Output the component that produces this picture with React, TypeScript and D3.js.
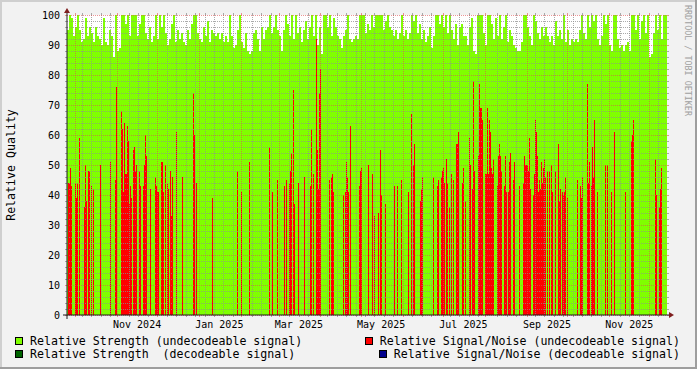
import React from 'react';
import * as d3 from 'd3';

// ---- data ----
const START = new Date(2024, 8, 25);
const END = new Date(2025, 11, 14);
const SLOTS = 600; // one RRD row per pixel column

// Relative Strength (undecodeable signal), one value per 2 rows
const strengthUndecodeable: number[] = [
  95,100,99,93,96,100,95,91,92,99,
  93,96,94,91,96,93,92,90,99,91,
  90,95,93,86,100,88,89,100,100,97,
  100,93,100,100,100,93,97,100,100,94,
  92,96,91,93,100,92,100,96,100,94,
  90,92,97,100,91,95,92,94,91,90,
  95,92,97,100,100,94,92,91,96,93,
  98,91,95,94,93,94,92,94,91,93,
  91,100,93,89,90,95,100,91,89,94,
  88,87,88,94,95,92,88,96,92,95,
  96,100,94,96,100,95,93,88,95,100,
  97,93,100,92,100,94,96,91,95,98,
  92,96,100,93,100,90,96,87,100,100,
  96,100,93,99,96,93,92,89,93,95,
  100,92,91,92,93,92,100,100,100,94,
  97,95,100,96,100,100,100,100,95,98,
  100,96,95,93,95,92,94,100,93,95,
  92,94,100,98,100,94,97,92,95,91,
  93,96,89,93,100,100,97,100,96,100,
  94,100,95,92,97,90,96,97,93,93,
  90,96,99,88,87,100,100,100,94,90,
  100,100,97,92,99,93,100,92,96,100,
  91,95,93,90,89,88,88,91,100,100,
  96,93,90,100,98,94,92,96,93,96,
  93,91,93,90,98,93,95,92,100,91,
  95,90,92,91,92,91,95,100,94,92,
  100,96,100,98,100,92,90,93,100,97,
  100,90,88,100,100,92,89,90,88,90,
  91,88,100,100,95,100,92,98,100,94,
  100,86,87,94,100,95,100,92,100,
];

// Relative Signal/Noise (undecodeable signal): row index and value
const snrSlots: number[] = [
  1,2,3,4,8,9,10,12,17,18,19,21,22,24,26,33,43,48,49,54,55,56,57,58,59,60,61,62,63,64,66,67,68,69,
  72,73,76,77,78,79,83,88,89,90,91,94,95,96,98,100,101,103,104,105,109,115,126,127,129,145,170,174,182,
  202,205,210,217,219,222,223,224,226,227,231,237,243,244,246,249,250,251,252,253,262,264,265,266,
  276,278,279,280,281,283,292,293,294,301,305,307,311,313,314,318,327,330,334,341,344,346,347,
  353,354,355,366,370,371,374,375,376,377,379,380,382,384,386,389,390,391,395,396,398,
  402,403,405,406,407,411,412,413,414,415,418,419,420,421,422,423,424,425,426,430,431,432,433,434,
  437,438,439,441,442,443,446,447,452,456,457,458,459,460,461,462,463,466,467,468,469,470,471,472,
  473,474,475,476,477,478,480,482,484,485,488,491,492,493,495,496,497,498,500,510,513,514,515,
  520,521,522,524,525,526,527,530,538,540,544,547,558,564,565,566,588,589,592,593,594,
];
const snrValues: number[] = [
  44,44,49,43,44,39,44,59,36,50,38,48,48,43,42,50,51,45,76,68,62,41,64,47,47,63,58,37,43,39,55,56,48,50,
  48,43,43,50,60,53,42,46,43,41,41,51,51,41,50,44,42,48,33,46,61,46,74,60,44,39,48,41,51,
  56,41,45,43,45,44,48,54,75,37,44,46,43,62,47,92,55,42,74,82,45,46,47,41,
  40,41,51,46,41,63,43,48,49,50,47,33,34,55,40,37,43,43,45,41,67,50,57,
  38,42,46,46,43,45,46,48,49,44,52,44,36,47,45,57,57,61,44,49,38,
  59,50,42,78,48,53,77,69,69,65,47,47,69,47,65,61,49,47,52,43,53,57,53,48,
  43,53,41,41,51,54,45,51,43,44,53,50,50,50,48,59,42,40,47,65,61,53,41,45,
  42,51,44,49,52,46,48,48,50,41,48,57,38,42,41,40,41,46,39,45,43,39,46,
  77,44,51,43,56,46,65,41,50,50,41,61,41,58,60,65,52,40,36,42,49,
];

const yTicks: number[] = [0, 10, 20, 30, 40, 50, 60, 70, 80, 90, 100];
const xLabelMonths: Date[] = [
  new Date(2024, 10, 1), new Date(2025, 0, 1), new Date(2025, 2, 1), new Date(2025, 4, 1),
  new Date(2025, 6, 1), new Date(2025, 8, 1), new Date(2025, 10, 1),
];
const legendItems = [
  { label: 'Relative Strength (undecodeable signal)', color: '#80FF00' },
  { label: 'Relative Signal/Noise (undecodeable signal)', color: '#FF0000' },
  { label: 'Relative Strength  (decodeable signal)', color: '#006400' },
  { label: 'Relative Signal/Noise (decodeable signal)', color: '#00008B' },
];

// ---- layout ----
const W = 697, H = 369;
const X0 = 67, X1 = 667, Y0 = 315, Y1 = 15;
const FONT = '"DejaVu Sans Mono", monospace';
const GRID = 'rgba(143,143,143,0.75)';
const MGRID = 'rgba(222,79,79,0.6)';

export default function App() {
  const x = d3.scaleTime().domain([START, END]).range([X0, X1]);
  const y = d3.scaleLinear().domain([0, 100]).range([Y0, Y1]);
  const span = END.getTime() - START.getTime();
  const slotMs = span / SLOTS;
  const stepMs = span / 300;

  const areaPts: [Date, number][] = strengthUndecodeable.map((v, i) => [new Date(START.getTime() + i * stepMs), v]);
  areaPts.push([END, strengthUndecodeable[strengthUndecodeable.length - 1]]);
  const area = d3.area<[Date, number]>()
    .x(d => x(d[0]))
    .y0(y(0))
    .y1(d => y(d[1]))
    .curve(d3.curveStepAfter);

  const months = d3.timeMonth.range(START, END);
  const weeks = d3.timeSunday.range(START, END).filter(d => !months.some(m => Math.abs(x(m) - x(d)) < 3));
  const minorY = d3.range(0, 101, 2).filter(v => v % 10 !== 0);
  const fmt = d3.timeFormat('%b %Y');
  const px = (v: number) => Math.round(v) + 0.5;

  return (
    <div>
      <style>{`body{margin:0}`}</style>
      <svg width={W} height={H} style={{ display: 'block' }} fontFamily={FONT}>
        <rect x={0} y={0} width={W} height={H} fill="#F2F2F2" />
        {/* shading border */}
        <rect x={0} y={0} width={W} height={2} fill="#CFCFCF" />
        <rect x={0} y={0} width={2} height={H} fill="#CFCFCF" />
        <rect x={0} y={H - 2} width={W} height={2} fill="#9E9E9E" />
        <rect x={W - 2} y={0} width={2} height={H} fill="#9E9E9E" />
        {/* canvas */}
        <rect x={X0} y={Y1} width={X1 - X0} height={Y0 - Y1} fill="#FFFFFF" />
        {/* data */}
        <path d={area(areaPts) || ''} fill="#80FF00" shapeRendering="crispEdges" />
        {snrSlots.map((s, i) => {
          const t0 = new Date(START.getTime() + s * slotMs);
          const t1 = new Date(START.getTime() + (s + 1) * slotMs);
          return (
            <rect key={i} x={Math.round(x(t0))} width={Math.max(1, Math.round(x(t1)) - Math.round(x(t0)))}
              y={Math.round(y(snrValues[i]))} height={Math.round(y(0)) - Math.round(y(snrValues[i]))}
              fill="#FF0000" shapeRendering="crispEdges" />
          );
        })}
        {/* grid */}
        <g shapeRendering="crispEdges">
          {minorY.map(v => (
            <g key={'my' + v}>
              <line x1={X0} x2={X1} y1={px(y(v))} y2={px(y(v))} stroke={GRID} strokeDasharray="1,1" />
              <line x1={X0 - 2} x2={X0} y1={px(y(v))} y2={px(y(v))} stroke={GRID} />
              <line x1={X1} x2={X1 + 2} y1={px(y(v))} y2={px(y(v))} stroke={GRID} />
            </g>
          ))}
          {weeks.map(d => (
            <g key={'wx' + d.getTime()}>
              <line x1={px(x(d))} x2={px(x(d))} y1={Y1} y2={Y0} stroke={GRID} strokeDasharray="1,1" />
              <line x1={px(x(d))} x2={px(x(d))} y1={Y1 - 2} y2={Y1} stroke={GRID} />
              <line x1={px(x(d))} x2={px(x(d))} y1={Y0} y2={Y0 + 2} stroke={GRID} />
            </g>
          ))}
          {yTicks.map(v => (
            <g key={'My' + v}>
              <line x1={X0} x2={X1} y1={px(y(v))} y2={px(y(v))} stroke={MGRID} strokeDasharray="1,1" />
              <line x1={X0 - 2} x2={X0} y1={px(y(v))} y2={px(y(v))} stroke={MGRID} />
              <line x1={X1} x2={X1 + 2} y1={px(y(v))} y2={px(y(v))} stroke={MGRID} />
            </g>
          ))}
          {months.map(d => (
            <g key={'Mx' + d.getTime()}>
              <line x1={px(x(d))} x2={px(x(d))} y1={Y1} y2={Y0} stroke={MGRID} strokeDasharray="1,1" />
              <line x1={px(x(d))} x2={px(x(d))} y1={Y1 - 2} y2={Y1} stroke={MGRID} />
              <line x1={px(x(d))} x2={px(x(d))} y1={Y0} y2={Y0 + 2} stroke={MGRID} />
            </g>
          ))}
        </g>
        {/* axes */}
        <line x1={X0 - 4} x2={X1 + 4} y1={Y0} y2={Y0} stroke="#1F1F1F" strokeWidth={1} />
        <line x1={X0} x2={X0} y1={Y0 + 4} y2={Y1 - 4} stroke="#1F1F1F" strokeWidth={1} />
        <polygon points={`${X1 + 2},${Y0 - 3} ${X1 + 2},${Y0 + 3} ${X1 + 7},${Y0}`} fill="#7F1F1F" />
        <polygon points={`${X0 - 3},${Y1 - 2} ${X0 + 3},${Y1 - 2} ${X0},${Y1 - 7}`} fill="#7F1F1F" />
        {/* y labels */}
        {yTicks.map(v => (
          <text key={'yl' + v} x={X0 - 7} y={y(v)} dy="0.36em" textAnchor="end" fontSize={10} fill="#000">{v}</text>
        ))}
        {/* x labels */}
        {xLabelMonths.map(d => (
          <text key={'xl' + d.getTime()} x={x(d3.timeDay.offset(d, 15))} y={328} textAnchor="middle" fontSize={10} fill="#000">{fmt(d)}</text>
        ))}
        {/* y title */}
        <text transform={`translate(15,${(Y0 + Y1) / 2}) rotate(-90)`} textAnchor="middle" fontSize={11.6} fill="#000">Relative Quality</text>
        {/* watermark */}
        <text transform="translate(685,5) rotate(90)" fontSize={8.4} fill="#A0A0A0" textAnchor="start" dy="0">RRDTOOL / TOBI OETIKER</text>
        {/* legend */}
        {[
          { item: legendItems[0], bx: 15, by: 337, tx: 30, ty: 345, anchor: 'start' },
          { item: legendItems[1], bx: 365, by: 337, tx: 680, ty: 345, anchor: 'end' },
          { item: legendItems[2], bx: 15, by: 350, tx: 30, ty: 358, anchor: 'start' },
          { item: legendItems[3], bx: 379, by: 350, tx: 680, ty: 358, anchor: 'end' },
        ].map((l, i) => (
          <g key={'lg' + i}>
            <rect x={l.bx + 0.5} y={l.by + 0.5} width={7} height={7} fill={l.item.color} stroke="#000" strokeWidth={1} />
            <text x={l.tx} y={l.ty} textAnchor={l.anchor as any} fontSize={11.6} fill="#000" xmlSpace="preserve" style={{ whiteSpace: 'pre' }}>{l.item.label}</text>
          </g>
        ))}
      </svg>
    </div>
  );
}
